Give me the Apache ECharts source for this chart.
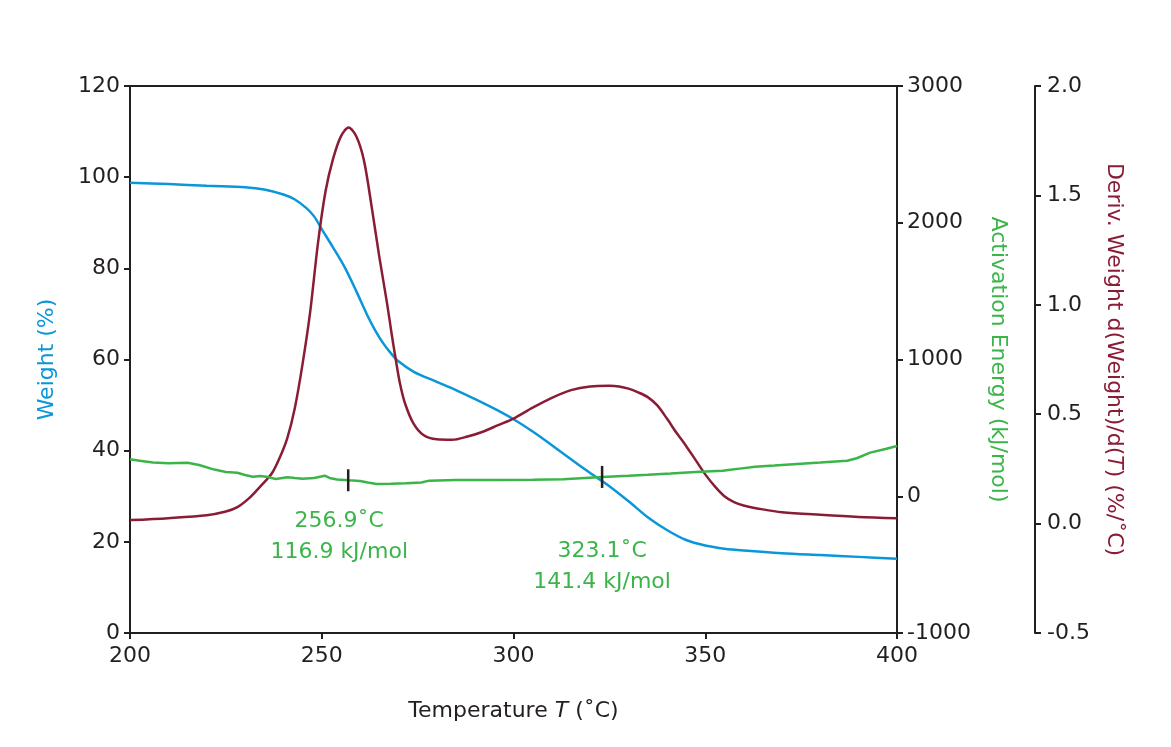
<!DOCTYPE html>
<html>
<head>
<meta charset="utf-8">
<script src="https://cdn.jsdelivr.net/npm/echarts@6/dist/echarts.min.js"></script>
<style>
  html, body { margin: 0; padding: 0; background: #fff; }
  #chart { width: 1171px; height: 747px; }
</style>
</head>
<body>
<div id="chart"></div>
<script>
// Weight (%) vs temperature
var weightT = [200, 210, 220, 230, 235, 240, 243, 246, 248, 250, 253, 256, 259, 262, 264, 266, 268, 270, 274, 280, 285, 290, 295, 300, 305, 310, 315, 320, 325, 330, 335, 340, 345, 350, 355, 360, 370, 380, 390, 400];
var weightVal = [98.8, 98.5, 98.1, 97.8, 97.3, 96.2, 95.1, 93.2, 91.4, 88.6, 84.5, 80.2, 75.0, 69.5, 66.3, 63.6, 61.4, 59.6, 57.3, 55.1, 53.3, 51.3, 49.2, 46.9, 44.2, 41.2, 38.1, 35.1, 32.2, 28.9, 25.4, 22.6, 20.4, 19.2, 18.5, 18.1, 17.5, 17.1, 16.7, 16.3];

// Deriv. weight (%/°C)
var derivT = [200, 210, 220, 225, 228, 231, 234, 237, 239, 241, 243, 245, 247, 249, 251, 253, 255, 257, 259, 261, 263, 265, 267, 268.2, 269.3, 270.4, 271.7, 273.9, 276.5, 280, 284, 288, 292, 296, 300, 305, 310, 315, 320, 325, 327.5, 330, 332.5, 335, 337.5, 340, 342.5, 345, 347.5, 350, 352.5, 355, 357.5, 360, 365, 370, 380, 390, 400];
var derivVal = [0.016, 0.025, 0.038, 0.055, 0.075, 0.115, 0.17, 0.23, 0.30, 0.39, 0.53, 0.73, 0.97, 1.28, 1.52, 1.67, 1.77, 1.81, 1.77, 1.66, 1.45, 1.22, 1.01, 0.87, 0.75, 0.64, 0.55, 0.458, 0.405, 0.385, 0.383, 0.398, 0.42, 0.45, 0.48, 0.53, 0.575, 0.61, 0.627, 0.63, 0.627, 0.617, 0.60, 0.578, 0.54, 0.48, 0.415, 0.355, 0.29, 0.225, 0.17, 0.125, 0.098, 0.083, 0.065, 0.052, 0.04, 0.03, 0.024];

// Activation energy (kJ/mol)
var energyT = [200, 203, 206, 210, 215, 218, 222, 225, 228, 230, 232, 234, 236, 238, 241, 243, 245, 248, 250.8, 252, 254, 257, 260, 262, 264.3, 268, 272, 276, 278, 285, 295, 305, 313, 323.1, 330, 335, 341, 348.6, 354.6, 357, 359, 363, 368, 374, 380, 387, 389.5, 393, 397, 400];
var energyVal = [270, 258, 246, 242, 245, 228, 195, 178, 172, 155, 143, 148, 140, 126, 139, 133, 128, 133, 150, 134, 122, 116.9, 112, 100, 90, 92, 95, 100, 114, 118, 119, 120, 124, 141.4, 150, 157, 166, 180, 187, 195, 202, 216, 225, 236, 246, 260, 278, 319, 345, 368];

// marked points on the activation energy curve
var markT = [256.9, 323.1];
var markE = [116.9, 141.4];

var xTicks = [200, 250, 300, 350, 400];

var BLUE = '#0a97d9';
var RED = '#8a1c35';
var GREEN = '#3bb54a';
var INK = '#231f20';
var FONT = 'DejaVu Sans';

function pairs(xs, ys) {
    return xs.map(function (x, i) { return [x, ys[i]]; });
}

var axisBase = {
    axisLine: { show: true, onZero: false, lineStyle: { color: INK, width: 2 } },
    axisTick: { show: true, inside: false, length: 6, lineStyle: { color: INK, width: 2 } },
    axisLabel: { color: INK, fontSize: 22, fontFamily: FONT, margin: 10, formatter: function (v) { return String(v); } },
    splitLine: { show: false }
};

var chart = echarts.init(document.getElementById('chart'));

chart.setOption({
    backgroundColor: '#fff',
    animation: false,
    textStyle: { fontFamily: FONT },
    grid: { left: 130, right: 274, top: 86, bottom: 114 },
    xAxis: [
        Object.assign({}, axisBase, {
            type: 'value',
            min: xTicks[0],
            max: xTicks[xTicks.length - 1],
            interval: 50,
            position: 'bottom',
            name: 'Temperature {i|T} (\u02daC)',
            nameLocation: 'middle',
            nameGap: 67,
            nameTextStyle: {
                color: INK, fontSize: 22, fontFamily: FONT,
                rich: { i: { fontStyle: 'italic', fontSize: 22, color: INK, fontFamily: FONT } }
            },
            axisLabel: { color: INK, fontSize: 22, fontFamily: FONT, margin: 12 }
        }),
        {
            type: 'value', min: 200, max: 400, position: 'top',
            axisLine: { show: true, onZero: false, lineStyle: { color: INK, width: 2 } },
            axisTick: { show: false }, axisLabel: { show: false }, splitLine: { show: false }
        }
    ],
    yAxis: [
        Object.assign({}, axisBase, {
            type: 'value', min: 0, max: 120, interval: 20, position: 'left',
            name: 'Weight (%)',
            nameLocation: 'middle',
            nameRotate: 90,
            nameGap: 72,
            nameTextStyle: { color: BLUE, fontSize: 22, fontFamily: FONT }
        }),
        Object.assign({}, axisBase, {
            type: 'value', min: -1000, max: 3000, interval: 1000, position: 'right', offset: 0,
            name: 'Activation Energy (kJ/mol)',
            nameLocation: 'middle',
            nameRotate: -90,
            nameGap: 90,
            nameTextStyle: { color: GREEN, fontSize: 22, fontFamily: FONT }
        }),
        Object.assign({}, axisBase, {
            type: 'value', min: -0.5, max: 2.0, interval: 0.5, position: 'right', offset: 138,
            name: 'Deriv. Weight d(Weight)/d({i|T}) (%/\u02daC)',
            nameLocation: 'middle',
            nameRotate: -90,
            nameGap: 68,
            nameTextStyle: {
                color: RED, fontSize: 22, fontFamily: FONT,
                rich: { i: { fontStyle: 'italic', fontSize: 22, color: RED, fontFamily: FONT } }
            },
            axisLabel: {
                color: INK, fontSize: 22, fontFamily: FONT, margin: 12,
                formatter: function (v) { return v.toFixed(1); }
            }
        })
    ],
    series: [
        {
            name: 'Weight', type: 'line', xAxisIndex: 0, yAxisIndex: 0,
            data: pairs(weightT, weightVal),
            smooth: 0.3, showSymbol: false,
            lineStyle: { color: BLUE, width: 2.5 }, itemStyle: { color: BLUE }, z: 3
        },
        {
            name: 'Deriv. Weight', type: 'line', xAxisIndex: 0, yAxisIndex: 2,
            data: pairs(derivT, derivVal),
            smooth: 0.3, showSymbol: false,
            lineStyle: { color: RED, width: 2.5 }, itemStyle: { color: RED }, z: 3
        },
        {
            name: 'Activation Energy', type: 'line', xAxisIndex: 0, yAxisIndex: 1,
            data: pairs(energyT, energyVal),
            smooth: false, showSymbol: false,
            lineStyle: { color: GREEN, width: 2.5 }, itemStyle: { color: GREEN }, z: 3
        },
        {
            name: 'marks', type: 'scatter', xAxisIndex: 0, yAxisIndex: 1,
            symbol: 'rect', symbolSize: [2.5, 22],
            itemStyle: { color: INK, opacity: 1 }, z: 5,
            data: [
                { value: [markT[0], markE[0]], label: { offset: [-9, 10] } },
                { value: [markT[1], markE[1]], label: { offset: [0, 43] } }
            ],
            label: {
                show: true, position: 'bottom',
                color: GREEN, fontSize: 22, fontFamily: FONT, lineHeight: 31, align: 'center',
                formatter: function (p) {
                    return p.value[0].toFixed(1) + '\u02daC\n' + p.value[1].toFixed(1) + ' kJ/mol';
                }
            }
        }
    ]
});
</script>
</body>
</html>
